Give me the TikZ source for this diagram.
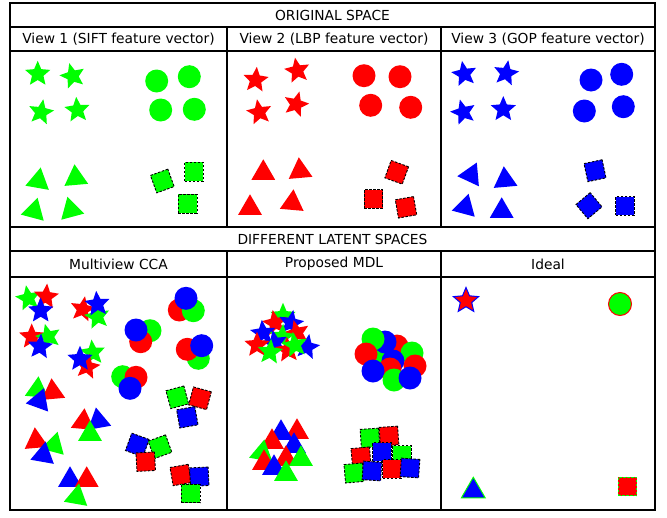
\documentclass[tikz,border=0pt]{standalone}
\usepackage{fontspec}
\setmainfont{DejaVu Sans}
\usetikzlibrary{shapes.geometric}
\definecolor{cg}{RGB}{0,255,0}
\definecolor{cr}{RGB}{255,0,0}
\definecolor{cb}{RGB}{0,0,255}
\tikzset{
  base/.style={inner sep=0pt, outer sep=0pt},
  starS/.style={base, star, star points=5, star point ratio=2.2, minimum size=26.5pt},
  circS/.style={base, circle, minimum size=23pt},
  triS/.style={base, regular polygon, regular polygon sides=3, minimum size=27.5pt},
  sqS/.style={base, rectangle, minimum size=18.5pt, draw=black, dash pattern=on 2.5pt off 1.5pt, line width=0.9pt},
  grid/.style={line width=1.3pt, black},
  lbl/.style={font=\fontsize{13.8}{16}\selectfont, inner sep=0pt}
}
\begin{document}
\begin{tikzpicture}[x=1pt,y=-1pt]
\useasboundingbox (0,0) rectangle (667,517);
% grid
\coordinate (TL) at (10,3); \coordinate (BR) at (655,510);
\draw[grid] (TL) rectangle (BR);
\foreach \yy [count=\i] in {27,51,227,251,277} {
  \coordinate (hl\i) at (10,\yy); \coordinate (hr\i) at (655,\yy);
  \draw[grid] (hl\i) -- (hr\i);
}
\foreach \xx [count=\i] in {227,441} {
  \coordinate (va\i) at (\xx,27); \coordinate (vb\i) at (\xx,227);
  \coordinate (vc\i) at (\xx,251); \coordinate (vd\i) at (\xx,510);
  \draw[grid] (va\i) -- (vb\i);
  \draw[grid] (vc\i) -- (vd\i);
}
% labels
\node[lbl] (t1) at (332.5,15) {ORIGINAL SPACE};
\node[lbl] (t2) at (118.5,39) {View 1 (SIFT feature vector)};
\node[lbl] (t3) at (334,39) {View 2 (LBP feature vector)};
\node[lbl] (t4) at (548,39) {View 3 (GOP feature vector)};
\node[lbl] (t5) at (332.5,239) {DIFFERENT LATENT SPACES};
\node[lbl] (t6) at (118.5,264) {Multiview CCA};
\node[lbl] (t7) at (334,264) {Proposed MDL};
\node[lbl] (t8) at (548,264) {Ideal};

% ---------- View 1 (green)
\foreach \x/\y/\r [count=\i] in {37.7/74/0, 72.7/76/15, 41/112.3/-10, 77.3/110/5}
  \node[starS, fill=cg, rotate=\r] (v1s\i) at (\x,\y) {};
\foreach \x/\y [count=\i] in {156.7/81, 189.3/76.7, 160.7/110, 194.3/109.3}
  \node[circS, fill=cg] (v1c\i) at (\x,\y) {};
\foreach \x/\y/\r [count=\i] in {38.3/181/-10, 75.7/178/5, 34/211/-15, 71/210/15}
  \node[triS, fill=cg, rotate=\r] (v1t\i) at (\x,\y) {};
\foreach \x/\y/\r [count=\i] in {162.3/181/20, 194/171.7/0, 187.7/203.7/0}
  \node[sqS, fill=cg, rotate=\r] (v1q\i) at (\x,\y) {};

% ---------- View 2 (red)
\foreach \x/\y/\r [count=\i] in {255.7/80/-5, 297.3/70.7/10, 259.3/112.3/10, 296/104.3/-15}
  \node[starS, fill=cr, rotate=\r] (v2s\i) at (\x,\y) {};
\foreach \x/\y [count=\i] in {364/75.7, 400/76.7, 370.7/105.3, 410.7/107.3}
  \node[circS, fill=cr] (v2c\i) at (\x,\y) {};
\foreach \x/\y/\r [count=\i] in {263.3/173/0, 300/171/5, 250/208/0, 292.3/203/-5}
  \node[triS, fill=cr, rotate=\r] (v2t\i) at (\x,\y) {};
\foreach \x/\y/\r [count=\i] in {396.7/172.3/-20, 373.3/199/0, 406/207.3/10}
  \node[sqS, fill=cr, rotate=\r] (v2q\i) at (\x,\y) {};

% ---------- View 3 (blue)
\foreach \x/\y/\r [count=\i] in {464.3/74/10, 506/73.3/-10, 463.3/112.3/15, 503.3/109.3/0}
  \node[starS, fill=cb, rotate=\r] (v3s\i) at (\x,\y) {};
\foreach \x/\y [count=\i] in {591/80, 621.7/74.3, 584.3/111, 623.3/106.7}
  \node[circS, fill=cb] (v3c\i) at (\x,\y) {};
\foreach \x/\y/\r [count=\i] in {471/175/-25, 505/180/5, 465/207/-15, 501.7/211/0}
  \node[triS, fill=cb, rotate=\r] (v3t\i) at (\x,\y) {};
\foreach \x/\y/\r [count=\i] in {595/170.7/12, 589/205.7/40, 625/206/0}
  \node[sqS, fill=cb, rotate=\r] (v3q\i) at (\x,\y) {};

% ---------- Multiview CCA
\foreach \x/\y/\c/\r [count=\i] in {
  28.3/298.3/cg/10, 46/296.7/cr/-5, 40.7/310.7/cb/0,
  82.7/309.3/cr/-10, 97.3/316.7/cg/10, 97.3/304/cb/5,
  31.7/336.7/cr/0, 48.3/336.7/cg/15, 40/346.7/cb/-5,
  92.7/352.7/cg/5, 87.3/366.7/cr/-10, 80/359/cb/0}
  \node[starS, fill=\c, rotate=\r] (ms\i) at (\x,\y) {};
\foreach \x/\y/\c [count=\i] in {
  179.3/310/cr, 193.3/310.7/cg, 186/298.3/cb,
  150/330.7/cg, 140.7/341.7/cr, 136/330/cb,
  198.3/358.3/cg, 187.3/349.3/cr, 201.7/345.7/cb,
  122.7/376.7/cg, 136/377.3/cr, 130/388.3/cb}
  \node[circS, fill=\c] (mc\i) at (\x,\y) {};
\foreach \x/\y/\c/\r [count=\i] in {
  37.3/390/cg/-5, 52.7/392/cr/5, 39.3/401/cb/-20,
  83.3/422/cr/-5, 98.3/421/cb/10, 90/434/cg/0,
  36/441/cr/5, 54/445/cg/-15, 43.3/455/cb/-10,
  70/480/cb/0, 86.7/480/cr/0, 76.7/497/cg/-10}
  \node[triS, fill=\c, rotate=\r] (mt\i) at (\x,\y) {};
\foreach \x/\y/\c/\r [count=\i] in {
  177.3/397.3/cg/15, 200/398.3/cr/-15, 187.3/417.3/cb/10,
  137.3/445/cb/-20, 160/446.7/cg/20, 145.7/461.7/cr/3,
  180.7/475/cr/10, 199.3/476.7/cb/3, 190.7/493.3/cg/0}
  \node[sqS, fill=\c, rotate=\r] (mq\i) at (\x,\y) {};

% ---------- Proposed MDL
\foreach \x/\y/\c/\r [count=\i] in {
  283/316/cg/0, 275/323/cr/10, 291/323/cb/-10, 263/333/cb/5,
  297/333/cr/15, 282/337/cg/-5, 275/343/cb/10, 257/345/cr/0,
  307/347/cb/-10, 288/350/cr/5, 295/345/cg/10, 270/352/cg/-5}
  \node[starS, fill=\c, rotate=\r] (ps\i) at (\x,\y) {};
\foreach \x/\y/\c [count=\i] in {
  382/356/cg, 397/346/cr, 385/342/cb, 373/339/cg,
  366/354/cr, 412/353/cg, 393/361/cb, 415/366/cr,
  390/369/cr, 373/371/cb, 394/380/cg, 410/378/cb}
  \node[circS, fill=\c] (pc\i) at (\x,\y) {};
\foreach \x/\y/\c/\r [count=\i] in {
  297/432/cr/0, 281/433/cb/0, 272/442/cr/0, 262/453/cg/-10,
  294/446/cb/0, 264/463/cr/0, 286/459/cr/0, 301/459/cg/0,
  274/468/cb/0, 286/474/cg/0}
  \node[triS, fill=\c, rotate=\r] (pt\i) at (\x,\y) {};
\foreach \x/\y/\c/\r [count=\i] in {
  370/438/cg/4, 389/436/cr/4, 382/452/cb/0, 361/457/cr/5,
  402/455/cg/0, 354/473/cg/5, 372/471/cb/-4, 392/469/cr/0, 410/468/cb/-4}
  \node[sqS, fill=\c, rotate=\r] (pq\i) at (\x,\y) {};

% ---------- Ideal
\node[starS, fill=cr, draw=cb, line width=1pt] (is) at (466,300.7) {};
\node[circS, fill=cg, draw=cr, line width=1pt] (ic) at (620,304) {};
\node[triS, fill=cb, draw=cg, line width=1pt] (it) at (473.3,491) {};
\node[sqS, fill=cr, draw=cg, line width=1pt] (iq) at (627.7,486.7) {};
\end{tikzpicture}
\end{document}
